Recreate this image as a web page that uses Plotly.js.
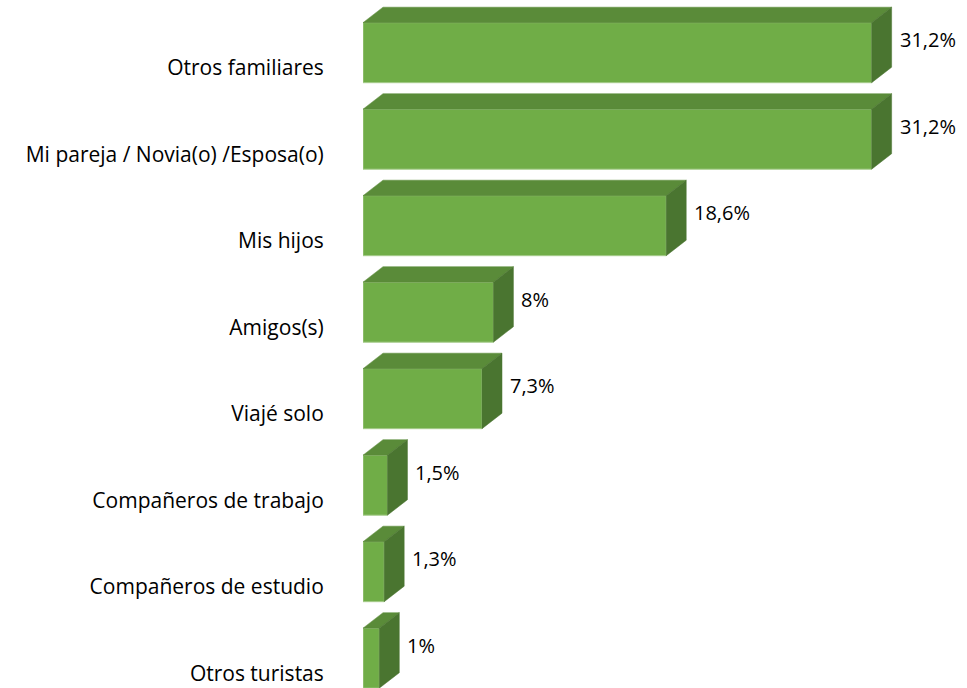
<!DOCTYPE html>
<html>
<head>
<meta charset="utf-8">
<script src="https://cdn.plot.ly/plotly-3.0.1.min.js"></script>
<style>html,body{margin:0;padding:0;background:#fff;}#chart{width:967px;height:688px;}</style>
</head>
<body>
<div id="chart"></div>
<script>
const categories = ["Otros familiares", "Mi pareja / Novia(o) /Esposa(o)", "Mis hijos", "Amigos(s)", "Viajé solo", "Compañeros de trabajo", "Compañeros de estudio", "Otros turistas"];
const values = [31.2, 31.2, 18.6, 8, 7.3, 1.5, 1.3, 1];
const valueLabels = values.map(v => String(v).replace('.', ',') + '%');

// styling / geometry constants
const barW = 0.694;      // bar thickness in category units
const depthX = 1.227;    // 3D depth offset along x (value units)
const depthY = 0.179;    // 3D depth offset along y (category units)
const frontColor = '#70AD47';
const topColor = '#5A8B39';
const sideColor = '#4A7530';
const fontFamily = '"Open Sans", sans-serif';

const pos = categories.map((c, i) => i);
const traces = [];

traces.push({
  type: 'bar', orientation: 'h', x: values, y: pos, width: barW,
  marker: {color: frontColor, line: {color: '#A5CC8A', width: 1}},
  hoverinfo: 'skip', showlegend: false
});

values.forEach((v, i) => {
  const top = i - barW / 2, bot = i + barW / 2;
  traces.push({
    type: 'scatter', mode: 'lines', fill: 'toself', fillcolor: topColor,
    line: {color: topColor, width: 0.5},
    x: [0, v, v + depthX, depthX, 0],
    y: [top, top, top - depthY, top - depthY, top],
    hoverinfo: 'skip', showlegend: false
  });
  traces.push({
    type: 'scatter', mode: 'lines', fill: 'toself', fillcolor: sideColor,
    line: {color: sideColor, width: 0.5},
    x: [v, v + depthX, v + depthX, v, v],
    y: [top, top - depthY, bot - depthY, bot, top],
    hoverinfo: 'skip', showlegend: false
  });
});

const annotations = values.map((v, i) => ({
  x: v + depthX, y: i - 0.147, xref: 'x', yref: 'y',
  text: valueLabels[i], showarrow: false, xanchor: 'left', yanchor: 'middle',
  xshift: 6, font: {family: fontFamily, size: 20, color: '#000'}
}));

const layout = {
  width: 967, height: 688,
  margin: {l: 363, r: 0, t: 0, b: 0},
  paper_bgcolor: '#fff', plot_bgcolor: '#fff',
  showlegend: false,
  xaxis: {range: [0, 37.05], visible: false, fixedrange: true},
  yaxis: {
    range: [7.345, -0.609], tickmode: 'array',
    tickvals: pos.map(p => p + 0.177), ticktext: categories,
    showgrid: false, zeroline: false, showline: false,
    ticks: 'outside', ticklen: 34, tickcolor: 'rgba(0,0,0,0)',
    tickfont: {family: fontFamily, size: 21, color: '#000'}
  },
  annotations: annotations
};

Plotly.newPlot('chart', traces, layout, {displayModeBar: false, staticPlot: true});
</script>
</body>
</html>
